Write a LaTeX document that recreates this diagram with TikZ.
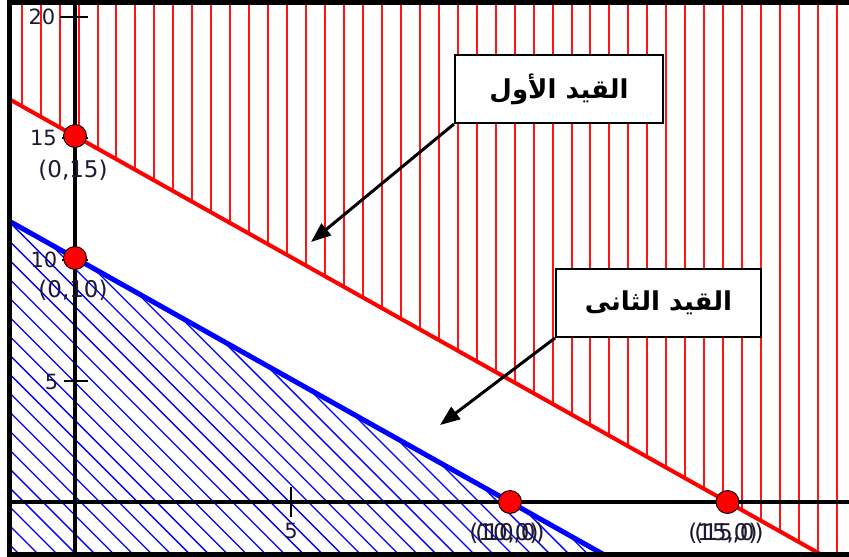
\documentclass[tikz,border=0pt]{standalone}
\usepackage{fontspec}
\setmainfont{DejaVu Sans}
\newfontfamily\arabicfont[Script=Arabic]{DejaVu Sans}
\TeXXeTstate=1
\usetikzlibrary{arrows.meta}
\definecolor{hatchred}{RGB}{255,20,20}
\definecolor{lnred}{RGB}{255,0,0}
\definecolor{lnblue}{RGB}{0,0,255}
\definecolor{lbl}{RGB}{30,24,50}
\begin{document}
\begin{tikzpicture}[x=1pt,y=-1pt,
  redhatch/.style={draw=hatchred, line width=2pt},
  bluehatch/.style={draw=lnblue, line width=1.3pt},
  axisline/.style={draw=black, line width=4pt},
  tickline/.style={draw=black, line width=1.6pt},
  redline/.style={draw=lnred, line width=4pt},
  blueline/.style={draw=lnblue, line width=5pt},
  dotmark/.style={circle, fill=red, draw=black, line width=0.9pt, minimum size=23pt, inner sep=0pt},
  axisnum/.style={text=lbl, font=\fontsize{21}{24}\selectfont, inner sep=0pt},
  ptlabel/.style={text=lbl, font=\fontsize{23}{26}\selectfont, inner sep=0pt},
  callout/.style={draw=black, line width=2pt, fill=white, inner sep=0pt,
    font=\arabicfont\bfseries\fontsize{26}{30}\selectfont},
  pointer/.style={draw=black, line width=3pt, -{Triangle[length=20pt,width=15pt]}}
]
\useasboundingbox (0,0) rectangle (849,557);

% math coordinate system: origin at (75,502), 43.5px per unit in x, 24.4px per unit in y
\begin{scope}[shift={(75,502)}, x={(43.5pt,0pt)}, y={(0pt,24.4pt)}]
  \coordinate (O) at (0,0);
  \coordinate (ra) at (-2,17);
  \coordinate (rb) at (20,-5);
  \coordinate (ba) at (-2,12);
  \coordinate (bb) at (14,-4);
  \coordinate (p015) at (0,15);
  \coordinate (p010) at (0,10);
  \coordinate (p100) at (10,0);
  \coordinate (p150) at (15,0);
\end{scope}

% hatching, lines and axes inside the frame
\begin{scope}
  \clip (11.5,4.5) rectangle (849,552);
  % red hatching above the first constraint
  \begin{scope}
    \clip (ra) -- (rb) -- (1000,0) -- (-50,0) -- cycle;
    \foreach \i in {0,...,44} {
      \draw[redhatch] ({2.7+18.96*\i},0) -- ++(0,600);
    }
  \end{scope}
  % blue hatching below the second constraint
  \begin{scope}
    \clip (ba) -- (bb) -- (1000,700) -- (-50,700) -- cycle;
    \foreach \i in {-20,...,55} {
      \draw[bluehatch] ({-383.3+18.96*\i},0) -- ({-383.3+18.96*\i+700},700);
    }
  \end{scope}
  % axes
  \draw[axisline] (0,502) -- (849,502);
  \draw[axisline] (75,0) -- (75,557);
  % ticks
  \draw[tickline] (60,17) -- (88,17);
  \draw[tickline] (62,138) -- (88,138);
  \draw[tickline] (62,260) -- (88,260);
  \draw[tickline] (64,381) -- (88,381);
  \draw[tickline] (291,487) -- (291,517);
  % constraint lines
  \draw[redline] (ra) -- (rb);
  \draw[blueline] (ba) -- (bb);
\end{scope}

% frame
\fill[black] (7,0) rectangle (849,4.5);
\fill[black] (7,0) rectangle (11.5,557);
\fill[black] (7,552) rectangle (849,557);

% axis numbers
\node[axisnum] (n20) at (42,17) {20};
\node[axisnum] (n15) at (43.5,138) {15};
\node[axisnum] (n10) at (44,260) {10};
\node[axisnum] (n5y) at (51.5,381.5) {5};
\node[axisnum] (n5x) at (291,531) {5};

% intersection points
\node[dotmark] (d015) at (p015) {};
\node[dotmark] (d010) at (p010) {};
\node[dotmark] (d100) at (p100) {};
\node[dotmark] (d150) at (p150) {};

% point labels
\node[ptlabel] (l015) at (73,170) {(0,15)};
\node[ptlabel] (l010) at (73,290) {(0,10)};
\node[ptlabel] (l100a) at (504,533) {(10,0)};
\node[ptlabel] (l100b) at (510,533) {(10,0)};
\node[ptlabel] (l150a) at (723,533) {(15,0)};
\node[ptlabel] (l150b) at (729,533) {(15,0)};

% callouts
\node[callout, minimum width=208pt, minimum height=68pt] (c1) at (559,89) {\beginR القيد الأول\endR};
\node[callout, minimum width=205pt, minimum height=68pt] (c2) at (658.5,303) {\beginR القيد الثانى\endR};
\coordinate (tip1) at (311,242);
\coordinate (tip2) at (440,425);
\draw[pointer] (c1.south west) -- (tip1);
\draw[pointer] (c2.south west) -- (tip2);
\end{tikzpicture}
\end{document}
